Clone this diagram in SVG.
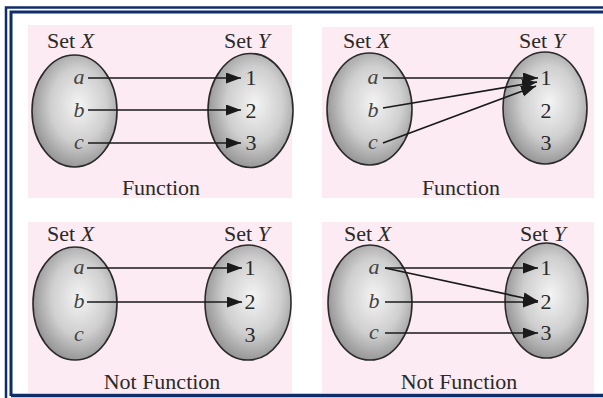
<svg xmlns="http://www.w3.org/2000/svg" width="603" height="398" viewBox="0 0 603 398">
<defs>
<radialGradient id="g" cx="0.55" cy="0.45" r="0.6">
<stop offset="0" stop-color="#f4f4f4"/>
<stop offset="0.55" stop-color="#cfcfcf"/>
<stop offset="1" stop-color="#8c8c8c"/>
</radialGradient>
<marker id="ah" markerUnits="userSpaceOnUse" markerWidth="16" markerHeight="12" refX="15" refY="5.5" orient="auto">
<path d="M0,0 L15,5.5 L0,11 z" fill="#1a1a1a"/>
</marker>
<style>
.panel{fill:#fcebf2}
.ell{fill:url(#g);stroke:#2a2a2a;stroke-width:1.6}
.t{font-family:"Liberation Serif",serif;font-size:22px;fill:#2a2a2a}
.i{font-style:italic}
.m{text-anchor:middle}
.v{font-family:"Liberation Serif",serif;font-size:22px;fill:#444;font-style:italic;text-anchor:middle}
.n{font-family:"Liberation Serif",serif;font-size:22px;fill:#2a2a2a;text-anchor:middle}
.c line{stroke:#1a1a1a;stroke-width:1.7;marker-end:url(#ah)}
</style>
</defs>
<rect width="603" height="398" fill="#ffffff"/>
<g id="frame" fill="none" stroke="#0f2d6b">
<path d="M6,398 V7.5 H603" stroke-width="2.5"/>
<path d="M11,396 V12 H603" stroke-width="3"/>
<path d="M11,395.5 H603" stroke-width="3.5"/>
</g>
<g id="panels">
<rect class="panel" x="28" y="25" width="264" height="173"/>
<rect class="panel" x="322" y="27" width="272" height="171"/>
<rect class="panel" x="28" y="222" width="264" height="171"/>
<rect class="panel" x="322" y="222" width="272" height="171"/>
</g>
<g id="tl">
<g id="tl-setX"><ellipse class="ell" cx="74.5" cy="111" rx="42.5" ry="56"/><text class="t" x="47" y="48">Set <tspan class="i">X</tspan></text>
<text class="v" x="79" y="84">a</text><text class="v" x="79" y="117">b</text><text class="v" x="79" y="149">c</text></g>
<g id="tl-setY"><ellipse class="ell" cx="250.5" cy="110.5" rx="42.5" ry="57"/><text class="t" x="224" y="48">Set <tspan class="i">Y</tspan></text>
<text class="n" x="251" y="85">1</text><text class="n" x="251" y="118">2</text><text class="n" x="251" y="150">3</text></g>
<text class="t m" x="161" y="195">Function</text>
</g>
<g id="tr">
<g id="tr-setX"><ellipse class="ell" cx="369.5" cy="109" rx="42.5" ry="56"/><text class="t" x="343" y="48">Set <tspan class="i">X</tspan></text>
<text class="v" x="373" y="84">a</text><text class="v" x="373" y="117">b</text><text class="v" x="373" y="149">c</text></g>
<g id="tr-setY"><ellipse class="ell" cx="545" cy="108" rx="42" ry="56"/><text class="t" x="519" y="48">Set <tspan class="i">Y</tspan></text>
<text class="n" x="546" y="85">1</text><text class="n" x="546" y="118">2</text><text class="n" x="546" y="150">3</text></g>
<text class="t m" x="461" y="195">Function</text>
</g>
<g id="bl">
<g id="bl-setX"><ellipse class="ell" cx="75" cy="303.5" rx="42" ry="56.5"/><text class="t" x="47" y="241">Set <tspan class="i">X</tspan></text>
<text class="v" x="79" y="274">a</text><text class="v" x="79" y="308">b</text><text class="v" x="79" y="341">c</text></g>
<g id="bl-setY"><ellipse class="ell" cx="248" cy="302.5" rx="43" ry="57.5"/><text class="t" x="224" y="241">Set <tspan class="i">Y</tspan></text>
<text class="n" x="250" y="275">1</text><text class="n" x="250" y="309">2</text><text class="n" x="250" y="342">3</text></g>
<text class="t m" x="162" y="389">Not Function</text>
</g>
<g id="br">
<g id="br-setX"><ellipse class="ell" cx="370" cy="302.5" rx="42" ry="57.5"/><text class="t" x="344" y="241">Set <tspan class="i">X</tspan></text>
<text class="v" x="374" y="274">a</text><text class="v" x="374" y="308">b</text><text class="v" x="374" y="339">c</text></g>
<g id="br-setY"><ellipse class="ell" cx="546.5" cy="300.5" rx="41.5" ry="57.5"/><text class="t" x="520" y="241">Set <tspan class="i">Y</tspan></text>
<text class="n" x="546" y="275">1</text><text class="n" x="546" y="309">2</text><text class="n" x="546" y="340">3</text></g>
<text class="t m" x="459" y="389">Not Function</text>
</g>
<g id="connectors" class="c">
<line x1="88" y1="78" x2="241" y2="78"/>
<line x1="88" y1="110" x2="241" y2="110"/>
<line x1="88" y1="143" x2="241" y2="143"/>
<line x1="383" y1="78" x2="538" y2="78"/>
<line x1="383" y1="108" x2="537" y2="82"/>
<line x1="383" y1="143" x2="536" y2="86"/>
<line x1="87" y1="268" x2="242" y2="268"/>
<line x1="87" y1="302" x2="242" y2="302"/>
<line x1="385" y1="268" x2="538" y2="268"/>
<line x1="385" y1="268" x2="538" y2="301"/>
<line x1="385" y1="302" x2="538" y2="302"/>
<line x1="385" y1="333" x2="538" y2="333"/>
</g>
</svg>
